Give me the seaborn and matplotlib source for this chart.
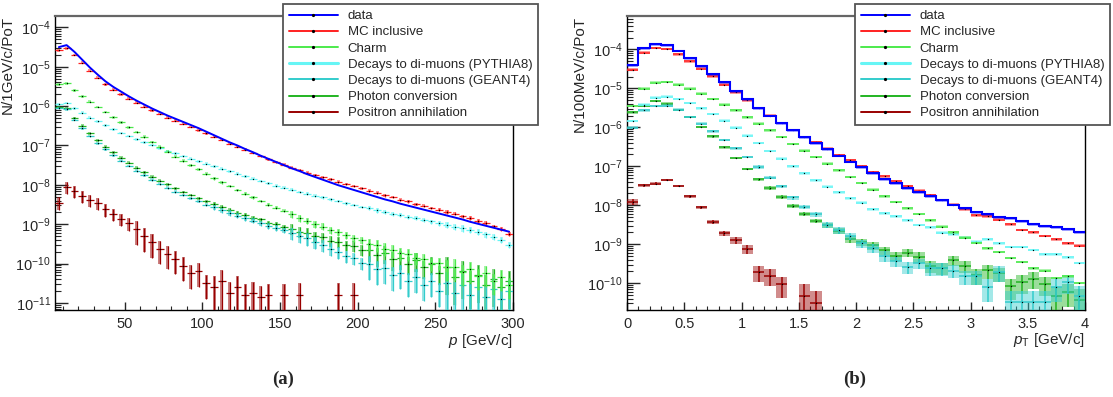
import numpy as np
import matplotlib
matplotlib.use("Agg")
import matplotlib.pyplot as plt
import seaborn as sns
from matplotlib.lines import Line2D
from matplotlib.ticker import LogLocator, MultipleLocator, LogFormatterMathtext, NullFormatter

nan = float("nan")

labels = ["data", "MC inclusive", "Charm", "Decays to di-muons (PYTHIA8)",
          "Decays to di-muons (GEANT4)", "Photon conversion", "Positron annihilation"]
colors = ["#0000ff", "#ff2020", "#4cea4c", "#66f5f5", "#33cccc", "#22b422", "#990000"]

# ---------------- panel (a): momentum, 5 GeV/c bins from 5 to 300, log10(N/1GeV/c/PoT)
p_centers_a = np.arange(7.5, 300, 5.0)
data_a = [-4.50, -4.45, -4.62, -4.82, -5.02, -5.20, -5.37, -5.51, -5.63, -5.75,
          -5.86, -5.96, -6.06, -6.15, -6.24, -6.32, -6.40, -6.48, -6.56, -6.65,
          -6.74, -6.83, -6.92, -7.00, -7.09, -7.17, -7.26, -7.34, -7.42, -7.50,
          -7.58, -7.65, -7.73, -7.80, -7.87, -7.94, -8.01, -8.07, -8.13, -8.19,
          -8.25, -8.31, -8.37, -8.42, -8.48, -8.53, -8.58, -8.63, -8.68, -8.73,
          -8.78, -8.83, -8.88, -8.94, -8.99, -9.04, -9.09, -9.14, -9.19]
mc_a = [-4.58, -4.53, -4.70, -4.90, -5.10, -5.28, -5.45, -5.58, -5.70, -5.81,
        -5.91, -6.01, -6.11, -6.20, -6.29, -6.37, -6.45, -6.53, -6.61, -6.69,
        -6.78, -6.86, -6.95, -7.03, -7.11, -7.19, -7.27, -7.35, -7.42, -7.49,
        -7.56, -7.62, -7.69, -7.75, -7.81, -7.86, -7.92, -7.98, -8.03, -8.09,
        -8.15, -8.20, -8.27, -8.31, -8.38, -8.42, -8.49, -8.53, -8.59, -8.63,
        -8.69, -8.73, -8.80, -8.84, -8.92, -8.97, -9.05, -9.12, -9.25]
charm_a = [-5.45, -5.42, -5.60, -5.75, -5.89, -6.02, -6.15, -6.28, -6.41, -6.54,
           -6.66, -6.78, -6.91, -7.03, -7.16, -7.28, -7.39, -7.50, -7.61, -7.72,
           -7.83, -7.93, -8.03, -8.13, -8.22, -8.32, -8.41, -8.50, -8.58, -8.66,
           -8.75, -8.84, -8.91, -8.99, -9.06, -9.14, -9.20, -9.27, -9.35, -9.41,
           -9.50, -9.52, -9.62, -9.66, -9.74, -9.76, -9.86, -9.88, -9.99, -9.98,
           -10.10, -10.08, -10.22, -10.15, -10.32, -10.25, -10.45, -10.35, -10.55]
pythia_a = [-5.95, -5.92, -6.06, -6.17, -6.29, -6.39, -6.49, -6.59, -6.68, -6.76,
            -6.84, -6.92, -6.99, -7.07, -7.14, -7.20, -7.27, -7.34, -7.40, -7.46,
            -7.53, -7.59, -7.66, -7.72, -7.78, -7.84, -7.90, -7.96, -8.02, -8.07,
            -8.12, -8.18, -8.22, -8.28, -8.32, -8.37, -8.41, -8.47, -8.51, -8.56,
            -8.59, -8.65, -8.68, -8.73, -8.76, -8.81, -8.85, -8.90, -8.93, -8.98,
            -9.01, -9.06, -9.10, -9.15, -9.20, -9.26, -9.32, -9.40, -9.52]
geant_a = [-6.05, -6.08, -6.35, -6.56, -6.76, -6.94, -7.10, -7.25, -7.39, -7.52,
           -7.64, -7.76, -7.87, -7.97, -8.07, -8.17, -8.26, -8.34, -8.42, -8.50,
           -8.57, -8.64, -8.71, -8.78, -8.84, -8.91, -8.97, -9.04, -9.09, -9.16,
           -9.22, -9.30, -9.36, -9.45, -9.52, -9.62, -9.70, -9.80, -9.86, -9.98,
           -10.02, -10.15, -10.12, -10.30, -10.25, -10.45, -10.35, -10.55, -10.45, -10.70,
           -10.50, -10.75, -10.55, -10.80, -10.60, -10.85, -10.65, -10.90, -10.70]
photon_a = [-6.02, -6.05, -6.30, -6.50, -6.69, -6.87, -7.03, -7.17, -7.31, -7.44,
            -7.56, -7.68, -7.79, -7.89, -7.99, -8.09, -8.18, -8.26, -8.34, -8.42,
            -8.49, -8.57, -8.63, -8.71, -8.76, -8.84, -8.88, -8.96, -9.00, -9.08,
            -9.11, -9.19, -9.22, -9.30, -9.33, -9.42, -9.44, -9.53, -9.55, -9.65,
            -9.66, -9.78, -9.72, -9.88, -9.85, -10.00, -9.92, -10.10, -10.00, -10.25,
            -10.10, -10.35, -10.20, -10.45, -10.30, -10.55, -10.40, -10.60, -10.45]
positron_a = [-8.45, -8.05, -8.15, -8.28, -8.38, -8.46, -8.62, -8.74, -8.86, -8.98,
              -9.12, -9.30, -9.45, -9.62, -9.75, -9.88, -10.05, -10.25, -10.20, -10.50,
              -10.60, -10.45, -10.75, -10.60, -10.80, -10.75, -10.85, -10.80, nan, -10.80,
              nan, -10.80, nan, nan, nan, nan, -10.80, nan, -10.80, nan,
              nan, nan, nan, nan, nan, nan, nan, nan, nan, nan,
              nan, nan, nan, nan, nan, nan, nan, nan, nan]
# relative errors read per 50 GeV/c range (5-50, 50-100, ..., 250-300)
err_a = {
    "MC inclusive": [0.01, 0.02, 0.03, 0.05, 0.07, 0.10],
    "Charm": [0.02, 0.04, 0.08, 0.20, 0.35, 0.55],
    "Decays to di-muons (PYTHIA8)": [0.02, 0.03, 0.05, 0.08, 0.12, 0.18],
    "Decays to di-muons (GEANT4)": [0.03, 0.06, 0.15, 0.35, 0.60, 0.90],
    "Photon conversion": [0.03, 0.05, 0.12, 0.30, 0.50, 0.80],
    "Positron annihilation": [0.35, 0.60, 0.90, 1.00, 1.00, 1.00],
}

# ---------------- panel (b): transverse momentum, 0.1 GeV/c bins, N/100MeV/c/PoT
pt_centers_b = np.arange(0.05, 4.0, 0.1)
data_b = [3.9e-5, 1.08e-4, 1.40e-4, 1.32e-4, 9.3e-5, 6.0e-5, 3.8e-5, 2.33e-5, 1.43e-5, 8.7e-6,
          5.2e-6, 3.1e-6, 2.0e-6, 1.29e-6, 8.5e-7, 5.6e-7, 3.9e-7, 2.7e-7, 1.88e-7, 1.32e-7,
          9.4e-8, 6.6e-8, 4.8e-8, 3.7e-8, 2.8e-8, 2.14e-8, 1.74e-8, 1.35e-8, 1.04e-8, 8.4e-9,
          6.6e-9, 5.8e-9, 5.1e-9, 4.6e-9, 3.9e-9, 3.3e-9, 2.95e-9, 2.7e-9, 2.4e-9, 2.1e-9]
mc_b = [3.0e-5, 8.2e-5, 1.08e-4, 1.02e-4, 7.4e-5, 4.9e-5, 3.2e-5, 2.04e-5, 1.24e-5, 7.9e-6,
        4.9e-6, 3.1e-6, 2.0e-6, 1.29e-6, 8.5e-7, 5.6e-7, 4.1e-7, 2.8e-7, 1.95e-7, 1.41e-7,
        1.0e-7, 7.1e-8, 5.5e-8, 4.1e-8, 3.1e-8, 2.34e-8, 1.81e-8, 1.35e-8, 1.04e-8, 7.9e-9,
        5.5e-9, 5.2e-9, 4.2e-9, 3.2e-9, 2.3e-9, 2.0e-9, 1.63e-9, 1.34e-9, 1.04e-9, 9.1e-10]
charm_b = [3.5e-6, 9.8e-6, 1.40e-5, 1.45e-5, 1.24e-5, 9.8e-6, 7.3e-6, 5.3e-6, 3.8e-6, 2.7e-6,
           1.8e-6, 1.24e-6, 8.4e-7, 5.6e-7, 3.7e-7, 2.5e-7, 1.73e-7, 1.15e-7, 7.8e-8, 5.3e-8,
           3.7e-8, 2.5e-8, 1.7e-8, 1.2e-8, 8.3e-9, 5.9e-9, 4.1e-9, 2.8e-9, 2.0e-9, 1.45e-9,
           1.07e-9, 7.8e-10, 6.3e-10, 4.4e-10, 3.5e-10, 2.4e-10, 2.1e-10, 1.35e-10, 1.5e-10, 1.0e-10]
pythia_b = [1.45e-6, 3.8e-6, 5.8e-6, 6.1e-6, 5.3e-6, 4.2e-6, 3.07e-6, 2.19e-6, 1.49e-6, 9.8e-7,
            6.1e-7, 3.95e-7, 2.47e-7, 1.56e-7, 1.0e-7, 6.6e-8, 4.3e-8, 3.0e-8, 2.15e-8, 1.49e-8,
            1.15e-8, 7.8e-9, 6.2e-9, 5.2e-9, 4.1e-9, 3.1e-9, 2.7e-9, 1.95e-9, 1.8e-9, 1.48e-9,
            1.15e-9, 1.32e-9, 1.04e-9, 8.5e-10, 8.5e-10, 7.1e-10, 5.5e-10, 5.5e-10, 4.6e-10, 3.3e-10]
geant_b = [9.8e-7, 2.73e-6, 3.5e-6, 3.56e-6, 2.8e-6, 1.84e-6, 1.24e-6, 7.9e-7, 4.7e-7, 2.9e-7,
           1.73e-7, 9.6e-8, 5.1e-8, 3.07e-8, 1.58e-8, 9.1e-9, 5.8e-9, 3.1e-9, 2.3e-9, 1.62e-9,
           1.05e-9, 8.1e-10, 5.0e-10, 3.7e-10, 2.6e-10, 3.2e-10, 2.4e-10, 2.4e-10, 2.1e-10, 1.5e-10,
           1.5e-10, 8.1e-11, 1.9e-10, 3.2e-11, 3.2e-11, 3.2e-11, 3.2e-11, 8.0e-11, 1.07e-10, 4.7e-11]
photon_b = [2.43e-6, 3.6e-6, 4.7e-6, 4.05e-6, 2.78e-6, 1.84e-6, 1.02e-6, 5.8e-7, 3.07e-7, 1.63e-7,
            8.5e-8, 4.7e-8, 2.78e-8, 1.63e-8, 9.8e-9, 6.1e-9, 3.95e-9, 3.07e-9, 2.19e-9, 1.32e-9,
            1.15e-9, 9.3e-10, 6.9e-10, 5.0e-10, 6.1e-10, 4.8e-10, 2.8e-10, 2.45e-10, 3.9e-10, 2.75e-10,
            1.59e-10, 2.14e-10, 1.77e-10, 8.4e-11, 1.08e-10, 1.31e-10, 9.3e-11, 4.8e-11, 6.0e-11, 3.6e-11]
positron_b = [1.22e-8, 3.26e-8, 3.6e-8, 4.4e-8, 3.1e-8, 1.7e-8, 8.9e-9, 3.8e-9, 1.88e-9, 1.27e-9,
              7.6e-10, 1.95e-10, 1.55e-10, 9.3e-11, nan, 4.7e-11, 3.1e-11, nan, nan, nan,
              nan, nan, nan, nan, nan, nan, nan, nan, nan, nan,
              nan, nan, nan, nan, nan, nan, nan, nan, nan, nan]
err_b = {
    "MC inclusive": [0.04] * 40,
    "Charm": [0.05] * 40,
    "Decays to di-muons (PYTHIA8)": [0.05] * 40,
    "Decays to di-muons (GEANT4)": [0.05, 0.04, 0.04, 0.04, 0.04, 0.05, 0.05, 0.06, 0.06, 0.07,
                                    0.08, 0.09, 0.10, 0.10, 0.12, 0.14, 0.15, 0.18, 0.20, 0.22,
                                    0.25, 0.25, 0.30, 0.30, 0.35, 0.30, 0.35, 0.35, 0.35, 0.40,
                                    0.40, 0.60, 0.45, 1.0, 1.0, 1.0, 1.0, 0.60, 0.50, 0.80],
    "Photon conversion": [0.05, 0.04, 0.04, 0.04, 0.04, 0.05, 0.05, 0.06, 0.06, 0.07,
                          0.08, 0.09, 0.10, 0.10, 0.12, 0.12, 0.14, 0.15, 0.16, 0.20,
                          0.20, 0.22, 0.25, 0.25, 0.25, 0.30, 0.35, 0.35, 0.30, 0.35,
                          0.45, 0.40, 0.40, 0.55, 0.50, 0.45, 0.50, 0.70, 0.60, 1.0],
    "Positron annihilation": [0.15, 0.08, 0.07, 0.06, 0.08, 0.08, 0.10, 0.12, 0.15, 0.20,
                              0.25, 0.45, 0.45, 0.55, 0.0, 1.0, 1.0, 0, 0, 0,
                              0, 0, 0, 0, 0, 0, 0, 0, 0, 0, 0, 0, 0, 0, 0, 0, 0, 0, 0, 0],
}

# ---------------------------------------------------------------- style
sns.set_theme(style="ticks")
plt.rcParams["font.family"] = ["Liberation Sans", "DejaVu Sans"]
plt.rcParams["mathtext.fontset"] = "custom"
plt.rcParams["mathtext.rm"] = "Liberation Sans"
plt.rcParams["mathtext.it"] = "Liberation Sans:italic"
plt.rcParams["mathtext.default"] = "regular"

W, H = 1113, 397
fig = plt.figure(figsize=(W / 100, H / 100), dpi=100)
fig.patch.set_facecolor("white")
ax_a = fig.add_axes([55 / W, 87 / H, 458 / W, 294 / H])
ax_b = fig.add_axes([627 / W, 87 / H, 458 / W, 294 / H])


def draw_points(ax, x, y, rel, color, width, z, band_frac=1.0, lw=1.1, alpha=0.45):
    x = np.asarray(x, float)
    y = np.asarray(y, float)
    rel = np.asarray(rel, float)
    m = np.isfinite(y)
    x, y, rel = x[m], y[m], rel[m]
    lo = y * np.clip(rel, 0, 0.985)
    hi = y * rel
    bmin = np.minimum(y - lo, y * 10 ** -0.035)
    bmax = np.maximum(y + hi, y * 10 ** 0.035)
    ax.bar(x, bmax - bmin, bottom=bmin, width=width * band_frac, color=color, alpha=alpha,
           linewidth=0, zorder=z)
    ax.errorbar(x, y, xerr=width / 2, yerr=[lo, hi], fmt="none", ecolor=color,
                elinewidth=lw, capsize=0, zorder=z + 0.1)
    ax.scatter(x, y, s=0.9, color="black", linewidths=0, zorder=z + 0.2)


# ---- panel (a)
ser_a = [mc_a, charm_a, pythia_a, geant_a, photon_a, positron_a]
seg_idx = np.minimum(((p_centers_a - 5) // 50).astype(int), 5)
order = [5, 4, 3, 2, 1, 0]
for k in order:
    name = labels[k + 1]
    vals = 10.0 ** np.asarray(ser_a[k], float)
    rel = np.asarray(err_a[name])[seg_idx]
    draw_points(ax_a, p_centers_a, vals, rel, colors[k + 1], 5.0, 2 + (6 - k),
                band_frac=0.4, lw=0.9, alpha=0.5)
sns.lineplot(x=p_centers_a, y=10.0 ** np.asarray(data_a), ax=ax_a, color=colors[0],
             lw=1.4, zorder=20, legend=False)

# ---- panel (b)
ser_b = [mc_b, charm_b, pythia_b, geant_b, photon_b, positron_b]
for k in order:
    name = labels[k + 1]
    draw_points(ax_b, pt_centers_b, ser_b[k], err_b[name], colors[k + 1], 0.1, 2 + (6 - k))
edges_b = np.arange(0, 4.01, 0.1)
db = np.asarray(data_b)
ax_b.bar(pt_centers_b, db * (1 - 10 ** -0.05), bottom=db * 10 ** -0.05, width=0.1,
         color=colors[0], alpha=0.35, linewidth=0, zorder=18)
ax_b.stairs(db, edges_b, color=colors[0], lw=1.5, zorder=20, baseline=None)

# ---- axes cosmetics
for ax, ylo, yhi in [(ax_a, -11.18, -3.71), (ax_b, -10.69, -3.145)]:
    ax.set_yscale("log")
    ax.set_ylim(10 ** ylo, 10 ** yhi)
    ax.yaxis.set_major_locator(LogLocator(base=10, numticks=20))
    ax.yaxis.set_minor_locator(LogLocator(base=10, subs=np.arange(2, 10), numticks=20))
    ax.yaxis.set_major_formatter(LogFormatterMathtext())
    ax.yaxis.set_minor_formatter(NullFormatter())
    ax.tick_params(axis="y", which="major", direction="in", length=9, width=1,
                   labelsize=10.5, left=True, right=False, pad=3)
    ax.tick_params(axis="y", which="minor", direction="in", length=4.5, width=0.8,
                   left=True, right=False)
    ax.tick_params(axis="x", which="major", direction="in", length=6, width=1,
                   labelsize=10.5, bottom=True, top=False, pad=5)
    ax.tick_params(axis="x", which="minor", direction="in", length=3, width=0.8,
                   bottom=True, top=False)
    for s in ["left", "bottom", "right"]:
        ax.spines[s].set_color("black")
        ax.spines[s].set_linewidth(1.0)
    ax.spines["top"].set_color("#666666")
    ax.spines["top"].set_linewidth(1.6)
    ax.set_facecolor("white")
    ax.grid(False)

ax_a.set_xlim(5, 300)
ax_a.xaxis.set_major_locator(MultipleLocator(50))
ax_a.xaxis.set_minor_locator(MultipleLocator(10))
ax_b.set_xlim(0, 4)
ax_b.xaxis.set_major_locator(MultipleLocator(0.5))
ax_b.xaxis.set_minor_locator(MultipleLocator(0.1))
ax_b.xaxis.set_major_formatter(plt.FuncFormatter(lambda v, _: f"{v:g}"))

ax_a.set_ylabel("N/1GeV/c/PoT", fontsize=11, loc="top")
ax_a.yaxis.set_label_coords(-0.088, 1.0)
ax_b.set_ylabel("N/100MeV/c/PoT", fontsize=11, loc="top")
ax_b.yaxis.set_label_coords(-0.088, 1.0)
ax_a.set_xlabel(r"$\mathit{p}$ [GeV/c]", fontsize=11, loc="right", labelpad=1)
ax_b.set_xlabel(r"$\mathit{p}_{\mathrm{T}}$ [GeV/c]", fontsize=11, loc="right", labelpad=0)

# ---- legends
handles = []
for i, (lab, col) in enumerate(zip(labels, colors)):
    handles.append(Line2D([0], [0], color=col, lw=2.2 if i == 3 else 1.4, marker="o",
                          markersize=1.3, markerfacecolor="black", markeredgecolor="black"))
for x0 in [283, 855]:
    leg = fig.legend(handles, labels, loc="upper left", bbox_to_anchor=(x0 / W, 1 - 4 / H),
                     frameon=True, fancybox=False, framealpha=1, edgecolor="#555555",
                     fontsize=9.5, handlelength=3.7, handletextpad=0.75, borderpad=0.45,
                     labelspacing=0.3, borderaxespad=0)
    leg.get_frame().set_linewidth(1.3)
    leg.set_zorder(50)

fig.text(283 / W, 1 - 379 / H, "(a)", ha="center", va="center", fontsize=13.5,
         fontweight="bold", family=["Liberation Serif", "DejaVu Serif"])
fig.text(855 / W, 1 - 379 / H, "(b)", ha="center", va="center", fontsize=13.5,
         fontweight="bold", family=["Liberation Serif", "DejaVu Serif"])

fig.savefig("out.png", dpi=100, facecolor="white")
